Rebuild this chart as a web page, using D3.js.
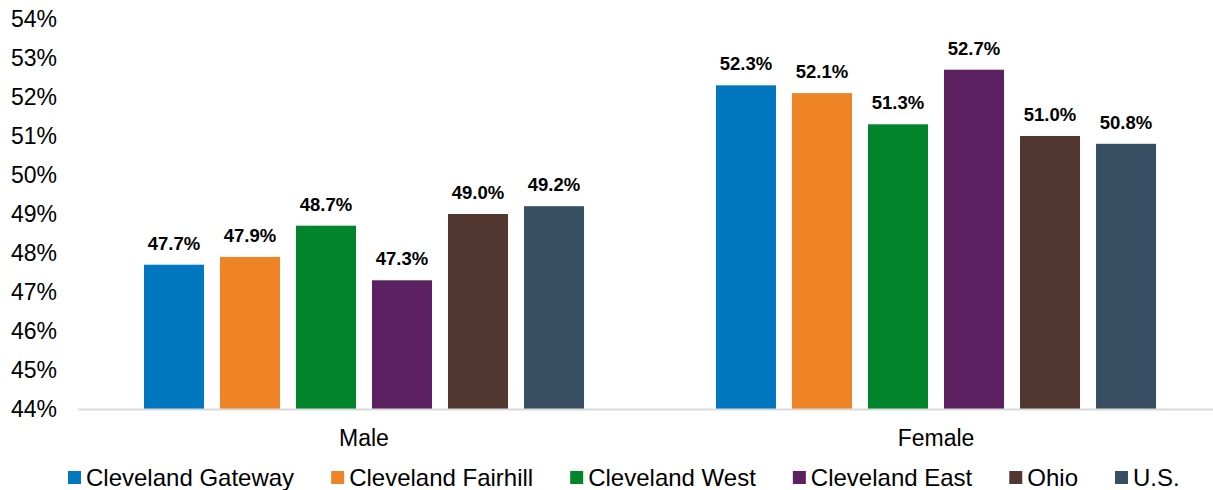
<!DOCTYPE html>
<html><head><meta charset="utf-8">
<script src="https://cdn.jsdelivr.net/npm/d3@7"></script>
<style>body{margin:0;background:#fff;} svg{display:block;font-family:"Liberation Sans",Arial,sans-serif;}</style>
</head><body><svg id="c" width="1213" height="490"></svg>
<script>
const categories = ["Male", "Female"];
const seriesNames = ["Cleveland Gateway", "Cleveland Fairhill", "Cleveland West", "Cleveland East", "Ohio", "U.S."];
const seriesColors = ["#0177BF", "#EF8427", "#00852A", "#5C2161", "#51372F", "#384E62"];
const maleValues = [47.7, 47.9, 48.7, 47.3, 49.0, 49.2];
const femaleValues = [52.3, 52.1, 51.3, 52.7, 51.0, 50.8];
const yTicks = [44, 45, 46, 47, 48, 49, 50, 51, 52, 53, 54];

const values = [maleValues, femaleValues];
const svg = d3.select("#c");
const W = 1213;
const x0 = d3.scaleBand().domain(categories).range([78, 1222]).paddingInner(0).paddingOuter(0);
const x1 = d3.scaleBand().domain(seriesNames).range([0, x0.bandwidth()]).paddingInner(16/76).paddingOuter(0.868);
const y = d3.scaleLinear().domain([44, 54]).range([409, 19]);

// y tick labels
svg.append("g").selectAll("text").data(yTicks).join("text")
  .attr("x", 57).attr("y", d => y(d)).attr("dy", "0.35em")
  .attr("text-anchor", "end").attr("font-size", 23).attr("fill", "#000")
  .text(d => d + "%");

// bars
const groups = svg.append("g").selectAll("g").data(categories).join("g")
  .attr("transform", d => `translate(${x0(d)},0)`);
groups.each(function(cat, ci) {
  const g = d3.select(this);
  const data = seriesNames.map((s, i) => ({s, v: values[ci][i], c: seriesColors[i]}));
  g.selectAll("rect").data(data).join("rect")
    .attr("x", d => x1(d.s)).attr("width", x1.bandwidth())
    .attr("y", d => y(d.v)).attr("height", d => y(44) - y(d.v))
    .attr("fill", d => d.c);
  g.selectAll("text").data(data).join("text")
    .attr("x", d => x1(d.s) + x1.bandwidth()/2).attr("y", d => y(d.v) - 15)
    .attr("text-anchor", "middle").attr("font-size", 18.5).attr("font-weight", "bold").attr("fill", "#000")
    .text(d => d.v.toFixed(1) + "%");
});

// axis line
svg.append("line").attr("x1", 78).attr("x2", W).attr("y1", y(44) + 0.5).attr("y2", y(44) + 0.5)
  .attr("stroke", "#d9d9d9").attr("stroke-width", 2);

// category labels
svg.append("g").selectAll("text").data(categories).join("text")
  .attr("x", d => x0(d) + x0.bandwidth()/2).attr("y", 446)
  .attr("text-anchor", "middle").attr("font-size", 23).attr("fill", "#000")
  .text(d => d);

// legend
const leg = svg.append("g");
let lx = 68;
seriesNames.forEach((s, i) => {
  leg.append("rect").attr("x", lx).attr("y", 471).attr("width", 13).attr("height", 13).attr("fill", seriesColors[i]);
  const t = leg.append("text").attr("x", lx + 18).attr("y", 485.5).attr("font-size", 24).attr("fill", "#000").text(s);
  lx += 18 + t.node().getComputedTextLength() + 37;
});
</script></body></html>
